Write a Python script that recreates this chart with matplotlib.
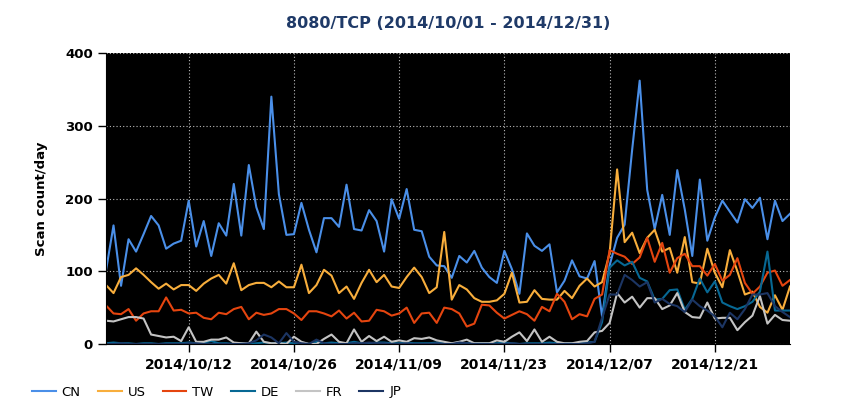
import matplotlib
matplotlib.use("Agg")
import matplotlib.pyplot as plt
import matplotlib.dates as mdates
import pandas as pd

days = pd.date_range("2014-10-01", "2014-12-31", freq="D")
tick_days = pd.to_datetime(["2014-10-12", "2014-10-26", "2014-11-09",
                            "2014-11-23", "2014-12-07", "2014-12-21"])

cn = [101, 163, 80, 144, 127, 151, 176, 163, 131, 138,
      142, 197, 134, 169, 121, 166, 149, 220, 149, 246,
      188, 158, 340, 206, 150, 151, 194, 157, 126, 173,
      173, 161, 219, 158, 156, 184, 169, 127, 199, 172,
      213, 157, 155, 120, 108, 107, 91, 121, 112, 128,
      105, 92, 84, 128, 103, 69, 152, 135, 128, 137,
      71, 87, 115, 93, 90, 114, 38, 108, 146, 164,
      267, 362, 212, 158, 205, 150, 239, 185, 121, 226,
      142, 174, 197, 182, 167, 199, 187, 201, 144, 197,
      169, 179]
us = [81, 70, 92, 95, 104, 95, 85, 76, 83, 75,
      81, 81, 73, 83, 90, 95, 83, 111, 74, 81,
      84, 84, 78, 86, 78, 78, 109, 70, 81, 102,
      94, 70, 79, 62, 84, 102, 85, 95, 79, 77,
      92, 105, 92, 70, 78, 154, 61, 81, 75, 63,
      58, 58, 60, 69, 98, 57, 58, 74, 62, 61,
      61, 73, 63, 80, 90, 79, 85, 125, 240, 140,
      153, 125, 146, 157, 127, 132, 98, 147, 85, 83,
      131, 98, 78, 129, 100, 68, 72, 51, 43, 67,
      47, 79]
tw = [53, 42, 41, 48, 32, 42, 45, 45, 64, 46,
      47, 42, 43, 36, 34, 43, 41, 48, 51, 34,
      43, 40, 42, 48, 48, 42, 33, 45, 45, 42,
      38, 46, 35, 43, 31, 32, 47, 45, 39, 42,
      50, 29, 42, 43, 29, 50, 48, 42, 24, 28,
      54, 53, 43, 35, 40, 45, 41, 32, 51, 45,
      69, 58, 34, 41, 38, 62, 68, 129, 124, 120,
      110, 119, 146, 113, 139, 98, 118, 124, 107, 107,
      94, 110, 87, 95, 118, 84, 69, 79, 98, 101,
      80, 88]
de = [1, 2, 1, 1, 0, 1, 1, 0, 1, 1,
      1, 2, 1, 2, 4, 1, 1, 0, 1, 0,
      1, 2, 1, 1, 2, 1, 2, 0, 3, 1,
      2, 1, 1, 3, 1, 1, 2, 2, 1, 1,
      2, 1, 1, 1, 2, 1, 1, 2, 1, 1,
      1, 1, 1, 2, 1, 0, 1, 1, 1, 2,
      1, 1, 1, 1, 2, 3, 30, 105, 115, 108,
      113, 91, 86, 61, 62, 74, 75, 47, 62, 90,
      71, 86, 57, 52, 48, 52, 58, 72, 127, 46,
      46, 46]
fr = [32, 31, 34, 37, 37, 35, 13, 11, 9, 10,
      4, 23, 3, 3, 6, 6, 9, 2, 1, 1,
      17, 3, 1, 1, 0, 10, 3, 0, 0, 7,
      13, 3, 1, 20, 3, 11, 4, 10, 3, 5,
      3, 8, 7, 9, 5, 3, 1, 3, 6, 1,
      1, 1, 5, 3, 10, 16, 4, 20, 3, 10,
      3, 1, 1, 3, 4, 16, 18, 29, 70, 57,
      65, 50, 63, 63, 48, 53, 70, 44, 37, 36,
      57, 35, 36, 36, 19, 30, 39, 66, 28, 40,
      33, 32]
jp = [0, 0, 1, 0, 0, 0, 0, 0, 0, 0,
      0, 1, 1, 0, 0, 0, 0, 0, 0, 1,
      5, 13, 9, 1, 15, 3, 1, 0, 6, 1,
      0, 0, 0, 1, 1, 2, 1, 1, 0, 0,
      1, 0, 0, 0, 1, 0, 0, 2, 1, 0,
      0, 0, 0, 0, 1, 0, 0, 0, 0, 0,
      0, 0, 0, 0, 1, 3, 36, 68, 68, 95,
      88, 79, 85, 57, 62, 55, 52, 44, 61, 52,
      46, 38, 23, 43, 34, 48, 68, 68, 70, 52,
      44, 37]

series = [("CN", cn, "#4a8fe8"), ("US", us, "#f8ae3c"), ("TW", tw, "#e5450f"),
          ("DE", de, "#076894"), ("FR", fr, "#c4c4c4"), ("JP", jp, "#1c3563")]

plt.rcParams["font.family"] = "DejaVu Sans"

fig = plt.figure(figsize=(8.5, 4.2), dpi=100)
ax = fig.add_axes([106 / 850, 76 / 420, 684 / 850, 291 / 420])
ax.set_facecolor("black")

for name, vals, color in series:
    ax.plot(days, vals, color=color, lw=1.5, label=name)

ax.set_xlim(days[0], days[-1])
ax.set_ylim(0, 400)
ax.set_yticks([0, 100, 200, 300, 400])
ax.set_xticks(tick_days)
ax.xaxis.set_major_formatter(mdates.DateFormatter("%Y/%m/%d"))
ax.grid(True, color="#bbbbbb", linestyle=(0, (1, 2)), lw=0.8)
for s in ["top", "right"]:
    ax.spines[s].set_visible(False)
ax.spines["left"].set_color("black")
ax.spines["bottom"].set_color("black")
ax.tick_params(axis="both", length=6, width=1)
ax.tick_params(axis="y", labelsize=9.5)
ax.tick_params(axis="x", labelsize=10, pad=4)
for lab in ax.get_xticklabels() + ax.get_yticklabels():
    lab.set_fontweight("bold")

ax.set_ylabel("Scan count/day", fontsize=9.5, fontweight="bold", labelpad=12)
ax.set_title("8080/TCP (2014/10/01 - 2014/12/31)", fontsize=11.5,
             fontweight="bold", color="#1f3a68", pad=18)

fig.legend(loc="center left", bbox_to_anchor=(32 / 850, 28 / 420), ncol=6,
           frameon=False, fontsize=9.5, handlelength=1.8, handletextpad=0.45,
           columnspacing=1.3, borderpad=0, borderaxespad=0)

fig.savefig("out.png", dpi=100)
